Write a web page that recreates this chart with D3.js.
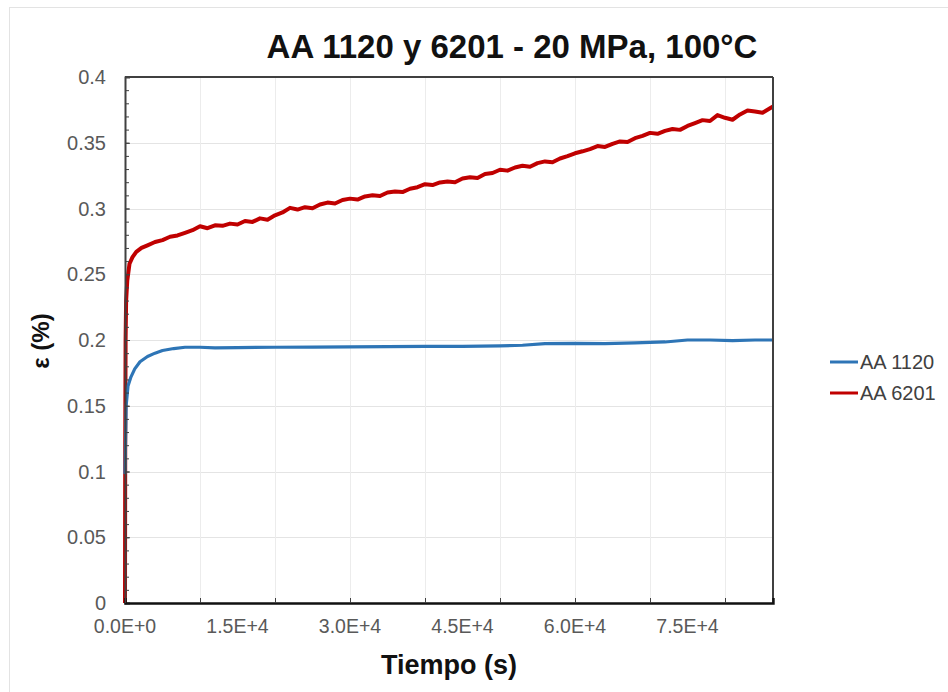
<!DOCTYPE html>
<html>
<head>
<meta charset="utf-8">
<script src="https://cdn.jsdelivr.net/npm/d3@7"></script>
<style>
  body { margin: 0; background: #fff; }
  svg { display: block; font-family: "Liberation Sans", Arial, sans-serif; }
</style>
</head>
<body>
<svg id="chart" width="948" height="692"></svg>
<script>
// ---- data ----
const title = "AA 1120 y 6201 - 20 MPa, 100°C";
const xTitle = "Tiempo (s)";
const yTitle = "ε (%)";
const seriesNames = ["AA 1120", "AA 6201"];
const xTickValues = [0, 15000, 30000, 45000, 60000, 75000];
const xTickLabels = ["0.0E+0", "1.5E+4", "3.0E+4", "4.5E+4", "6.0E+4", "7.5E+4"];
const yTickValues = [0, 0.05, 0.1, 0.15, 0.2, 0.25, 0.3, 0.35, 0.4];
const yTickLabels = ["0", "0.05", "0.1", "0.15", "0.2", "0.25", "0.3", "0.35", "0.4"];

// AA 1120 (time s, strain %)
const tBlue = [0, 150, 400, 800, 1300, 2000, 3000, 4000, 5000, 6500, 8000, 10000, 12000, 15000, 20000, 25000, 30000, 35000, 40000, 45000, 50000, 53000, 56000, 60000, 64000, 68000, 72000, 75000, 78000, 81000, 84000, 86400];
const eBlue = [0.098, 0.15, 0.165, 0.172, 0.178, 0.1835, 0.1875, 0.19, 0.192, 0.1935, 0.1945, 0.1945, 0.194, 0.1942, 0.1945, 0.1946, 0.1948, 0.195, 0.1952, 0.1952, 0.1955, 0.196, 0.1972, 0.1975, 0.1972, 0.1978, 0.1985, 0.2, 0.2, 0.1995, 0.2, 0.2];

// AA 6201 (time s, strain %)
const tRed = [0, 30, 80, 150, 300, 600, 1000, 1500, 2200, 3000, 4000, 5000, 6000, 7000, 8000, 9000,
  10000, 11000, 12000, 13000, 14000, 15000, 16000, 17000, 18000, 19000, 20000, 21000, 22000, 23000, 24000, 25000,
  26000, 27000, 28000, 29000, 30000, 31000, 32000, 33000, 34000, 35000, 36000, 37000, 38000, 39000, 40000, 41000,
  42000, 43000, 44000, 45000, 46000, 47000, 48000, 49000, 50000, 51000, 52000, 53000, 54000, 55000, 56000, 57000,
  58000, 59000, 60000, 61000, 62000, 63000, 64000, 65000, 66000, 67000, 68000, 69000, 70000, 71000, 72000, 73000,
  74000, 75000, 76000, 77000, 78000, 79000, 80000, 81000, 82000, 83000, 84000, 85000, 86000, 86400];
const eRed = [0, 0.12, 0.2, 0.23, 0.245, 0.258, 0.263, 0.267, 0.27, 0.272, 0.2745, 0.276, 0.2785, 0.2795, 0.2815, 0.2835,
  0.2865, 0.2850, 0.2872, 0.2868, 0.2885, 0.2878, 0.2905, 0.2898, 0.2925, 0.2915, 0.2948, 0.2970, 0.3005, 0.2992, 0.3010, 0.3002,
  0.3030, 0.3045, 0.3038, 0.3065, 0.3075, 0.3068, 0.3092, 0.3100, 0.3095, 0.3122, 0.3130, 0.3125, 0.3150, 0.3162, 0.3185, 0.3178,
  0.3198, 0.3205, 0.3200, 0.3228, 0.3238, 0.3232, 0.3262, 0.3270, 0.3295, 0.3288, 0.3312, 0.3325, 0.3318, 0.3345, 0.3358, 0.3352,
  0.3380, 0.3398, 0.3420, 0.3435, 0.3452, 0.3475, 0.3468, 0.3492, 0.3510, 0.3505, 0.3535, 0.3552, 0.3575, 0.3568, 0.3590, 0.3605,
  0.3598, 0.3628, 0.3650, 0.3672, 0.3665, 0.3710, 0.3690, 0.3675, 0.3715, 0.3745, 0.3738, 0.3728, 0.3762, 0.3775];

// ---- layout ----
const svg = d3.select("#chart");
const x = d3.scaleLinear().domain([0, 86400]).range([125, 773]);
const y = d3.scaleLinear().domain([0, 0.4]).range([603, 77]);

// outer chart border
svg.append("rect").attr("x", 9.5).attr("y", 7.5).attr("width", 960).attr("height", 700)
  .attr("fill", "#fff").attr("stroke", "#e3e3e3");

// gridlines
const g = svg.append("g");
g.selectAll("line.gy").data(yTickValues.slice(1, -1)).join("line")
  .attr("x1", x(0)).attr("x2", x(86400))
  .attr("y1", d => Math.round(y(d)) + 0.5).attr("y2", d => Math.round(y(d)) + 0.5)
  .attr("stroke", "#e4e4e4").attr("stroke-width", 1);
g.selectAll("line.gx").data(d3.range(10000, 86400, 10000)).join("line")
  .attr("y1", y(0)).attr("y2", y(0.4))
  .attr("x1", d => Math.round(x(d)) + 0.5).attr("x2", d => Math.round(x(d)) + 0.5)
  .attr("stroke", "#ececec").attr("stroke-width", 1);

// lines
const line = d3.line().x(d => x(d[0])).y(d => y(d[1]));
const redData = tRed.map((t, i) => [t, eRed[i]]);
const blueData = tBlue.map((t, i) => [t, eBlue[i]]);
svg.append("path").datum(redData).attr("d", line).attr("fill", "none")
  .attr("stroke", "#c00000").attr("stroke-width", 4).attr("stroke-linejoin", "round");
svg.append("path").datum(blueData).attr("d", line).attr("fill", "none")
  .attr("stroke", "#2e75b6").attr("stroke-width", 3.2).attr("stroke-linejoin", "round");

// frame: top & right
svg.append("line").attr("x1", x(0)).attr("x2", x(86400)).attr("y1", y(0.4)).attr("y2", y(0.4))
  .attr("stroke", "#404040").attr("stroke-width", 2);
svg.append("line").attr("x1", x(86400)).attr("x2", x(86400)).attr("y1", y(0.4)).attr("y2", y(0))
  .attr("stroke", "#404040").attr("stroke-width", 2);

// y axis
const yAxis = d3.axisRight(y).tickValues(yTickValues).tickSize(5).tickFormat("");
const ya = svg.append("g").attr("transform", `translate(${x(0)},0)`).call(yAxis);
ya.select(".domain").attr("stroke", "#404040").attr("stroke-width", 2);
ya.selectAll(".tick line").attr("stroke", "#404040");
const yMinor = d3.axisRight(y).tickValues(d3.range(0, 0.4001, 0.01)).tickSize(4).tickFormat("");
const ym = svg.append("g").attr("transform", `translate(${x(0)},0)`).call(yMinor);
ym.select(".domain").remove();
ym.selectAll(".tick line").attr("stroke", "#404040");
svg.append("g").selectAll("text").data(yTickValues).join("text")
  .attr("x", 106).attr("y", d => y(d)).attr("dy", "0.36em")
  .attr("text-anchor", "end").attr("font-size", 20).attr("fill", "#595959")
  .text((d, i) => yTickLabels[i]);

// x axis
const xAxis = d3.axisTop(x).tickValues(d3.range(0, 86400, 10000)).tickSize(5).tickFormat("");
const xa = svg.append("g").attr("transform", `translate(0,${y(0)})`).call(xAxis);
xa.select(".domain").attr("stroke", "#111").attr("stroke-width", 2.4);
xa.selectAll(".tick line").attr("stroke", "#404040");
svg.append("g").selectAll("text").data(xTickValues).join("text")
  .attr("x", d => x(d)).attr("y", 633)
  .attr("text-anchor", "middle").attr("font-size", 19.5).attr("fill", "#595959")
  .text((d, i) => xTickLabels[i]);

// titles
svg.append("text").attr("x", 512).attr("y", 58).attr("text-anchor", "middle")
  .attr("font-size", 33).attr("font-weight", "bold").attr("fill", "#111").text(title);
svg.append("text").attr("x", 449).attr("y", 674).attr("text-anchor", "middle")
  .attr("font-size", 27).attr("font-weight", "bold").attr("fill", "#111").text(xTitle);
svg.append("text").attr("transform", "translate(49,341) rotate(-90)").attr("text-anchor", "middle")
  .attr("font-size", 24).attr("font-weight", "bold").attr("fill", "#111").text(yTitle);

// legend
const legColors = ["#2e75b6", "#c00000"];
const leg = svg.append("g").selectAll("g").data(seriesNames).join("g")
  .attr("transform", (d, i) => `translate(830,${362 + i * 31})`);
leg.append("line").attr("x1", 0).attr("x2", 28).attr("y1", 0).attr("y2", 0)
  .attr("stroke", (d, i) => legColors[i]).attr("stroke-width", 3);
leg.append("text").attr("x", 30).attr("y", 0).attr("dy", "0.36em")
  .attr("font-size", 20).attr("fill", "#404040").text(d => d);
</script>
</body>
</html>
